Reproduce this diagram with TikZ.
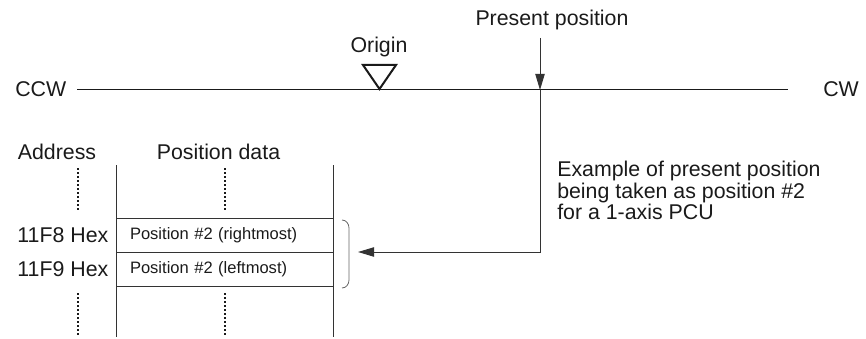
\documentclass[tikz,border=0pt]{standalone}
\usepackage{fontspec}
\setmainfont{Liberation Sans}
\usetikzlibrary{arrows.meta,positioning}
\definecolor{ink} {HTML}{1A1A1A}
\definecolor{rule}{HTML}{333333}
\definecolor{brc} {HTML}{666666}

\begin{document}
\begin{tikzpicture}[x=0.75pt,y=0.75pt,
    lbl/.style  ={font=\fontsize{16}{16}\selectfont,text=ink,inner sep=0pt},
    cell/.style ={draw=rule,line width=0.6pt,minimum width=162.75pt,
                  minimum height=25.5pt,inner xsep=10.5pt,inner ysep=0pt,
                  text width=141.75pt,align=left,text=ink,
                  font=\fontsize{12.4}{14}\selectfont},
    tbl/.style  ={draw=rule,line width=0.6pt},
    dotcol/.style={draw=ink,line width=1.8pt,dash pattern=on 1.5pt off 1.5pt},
    ptr/.style  ={draw=rule,line width=0.75pt,
                  -{Triangle[length=12pt,width=7pt]}},
  ]

% fixed bounding box -> same proportions as the sheet
\path (0,0) rectangle (866,-337);

% ---- travel axis -----------------------------------------------------------
\node[lbl,anchor=base west] (ccw) at (15,-97)  {CCW};
\node[lbl,anchor=base west] (cw)  at (823,-97) {CW};
\coordinate (axL) at (77,-90);
\coordinate (axR) at (788,-90);
\draw[ink,line width=0.75pt] (axL) -- (axR);

% ---- origin mark -----------------------------------------------------------
\node[lbl,anchor=base] (org) at (379,-53) {Origin};
\draw[ink,line width=1.5pt,line join=miter] (363,-65) -- (396,-65) -- (379.5,-89) -- cycle;

% ---- present position ------------------------------------------------------
\node[lbl,anchor=base] (pp) at (552,-26) {Present position};
\coordinate (ppTop)  at (540,-38);
\coordinate (ppAx)   at (540,-90);
\coordinate (ppBend) at (540,-252);
\coordinate (ppTip)  at (358,-252);
\draw[ptr] (ppTop) -- (ppAx);
\draw[ptr] (ppAx) -- (ppBend) -- (ppTip);

\node[lbl,anchor=north west,align=left,
      font=\fontsize{16}{16.1}\selectfont] (note) at (557,-161)
  {Example of present position\\
   being taken as position \#2\\
   for a 1-axis PCU};

% ---- memory table ----------------------------------------------------------
\node[lbl,anchor=base] (hAdr) at (57,-160)    {Address};
\node[lbl,anchor=base] (hPos) at (218.5,-160) {Position data};

\draw[tbl] (116,-165) -- (116,-337);
\draw[tbl] (333,-165) -- (333,-337);

\node[cell] (r8) at (224.5,-235) {Position \#2 (rightmost)};
\node[cell] (r9) at (224.5,-269) {Position \#2 (leftmost)};

\node[lbl,left=5.25pt of r8] (a8) {11F8 Hex};
\node[lbl,left=5.25pt of r9] (a9) {11F9 Hex};

% continuation dots
\draw[dotcol] (78,-168)  -- (78,-211);
\draw[dotcol] (78,-293)  -- (78,-337);
\draw[dotcol] (225,-168) -- (225,-211);
\draw[dotcol] (225,-293) -- (225,-337);

% bracket round the two words
\draw[brc,line width=0.6pt] (342,-220) to[out=0,in=90] (349,-228)
  -- (349,-280) to[out=-90,in=0] (342,-288);

\end{tikzpicture}
\end{document}
